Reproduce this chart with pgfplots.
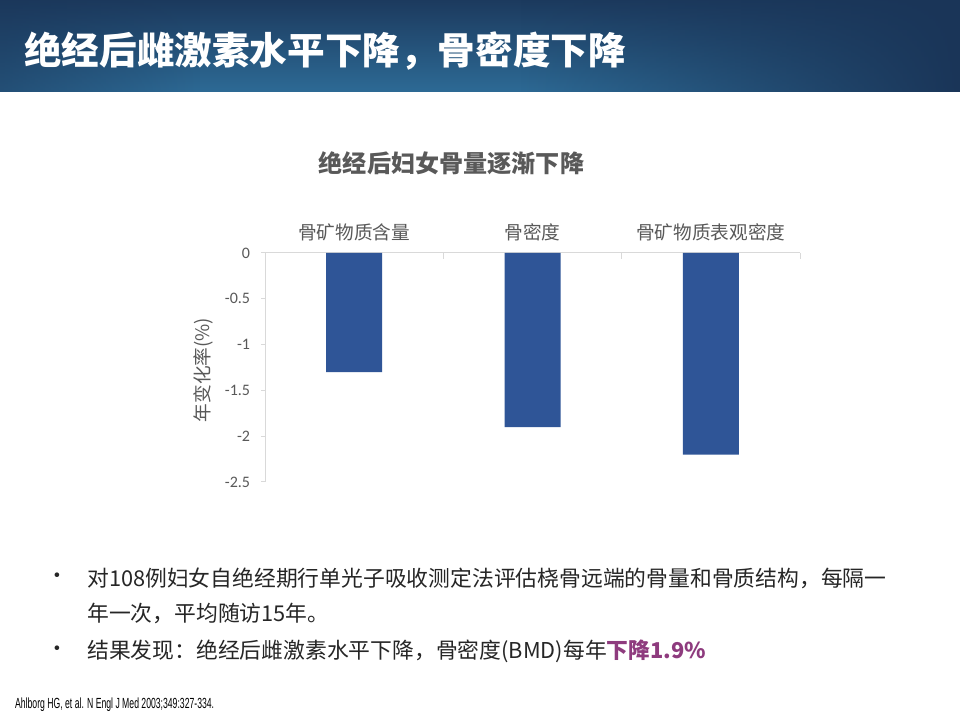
\documentclass[border=0pt]{standalone}
\usepackage{fontspec}
\setmainfont{Noto Sans CJK SC}
\newfontfamily\calfont{Carlito}
\newfontfamily\libfont{Liberation Sans}
\usepackage{pgfplots}
\pgfplotsset{compat=1.18}
\usetikzlibrary{fadings}
\definecolor{bar}{HTML}{2F5597}
\definecolor{txt}{HTML}{595959}
\definecolor{gridc}{HTML}{D9D9D9}
\definecolor{hl}{HTML}{8E3B7E}
\definecolor{body}{HTML}{262626}
\definecolor{hdrtop}{HTML}{1C3A5E}
\definecolor{hdrbot}{HTML}{2D6A95}
\definecolor{hdrdark}{HTML}{1A3558}
\begin{document}
\begin{tikzpicture}[x=0.75pt,y=0.75pt]
\fill[white] (0,0) rectangle (960,720);
\shade[top color=hdrtop, bottom color=hdrbot] (0,628) rectangle (960,720);
\fill[hdrdark, path fading=west] (520,628) rectangle (960,720);
\fill[hdrdark, path fading=east, opacity=0.5] (0,628) rectangle (200,720);
\node[anchor=west, text=white, inner sep=0pt, font=\fontsize{28.2}{31}\selectfont\bfseries] at (24,669) {绝经后雌激素水平下降，骨密度下降};
\node[text=txt, inner sep=0pt, font=\fontsize{18.1}{21}\selectfont\bfseries] at (451.5,557) {绝经后妇女骨量逐渐下降};
\coordinate (axpos) at (265,238);
\begin{axis}[
  at={(axpos)}, anchor=south west, scale only axis,
  width=401.25pt, height=171.75pt,
  xmin=0, xmax=3, ymin=-2.5, ymax=0,
  axis x line*=top, axis y line*=left,
  axis line style={draw=gridc, line width=0.75pt},
  xtick={0.5,1.5,2.5},
  xticklabels={骨矿物质含量,骨密度,骨矿物质表观密度},
  x tick label style={text=txt, font=\fontsize{14}{16}\selectfont, inner sep=0pt, yshift=6pt},
  x tick style={draw=none},
  ytick={-2.5,-2,-1.5,-1,-0.5,0},
  yticklabels={-2.5,-2,-1.5,-1,-0.5,0},
  y tick label style={text=txt, font=\calfont\fontsize{12}{13}\selectfont, inner sep=0pt, xshift=-8pt},
  tick align=outside, major tick length=3pt,
  y tick style={draw=gridc, line width=0.75pt},
  clip=false,
]
\addplot[ybar, bar width=42pt, fill=bar, draw=none] coordinates {(0.5,-1.3) (1.5,-1.9) (2.5,-2.2)};
\draw[gridc, line width=0.75pt] (axis cs:1,0) -- ([yshift=-4.5pt]axis cs:1,0);
\draw[gridc, line width=0.75pt] (axis cs:2,0) -- ([yshift=-4.5pt]axis cs:2,0);
\draw[gridc, line width=0.75pt] (axis cs:3,0) -- ([yshift=-4.5pt]axis cs:3,0);
\end{axis}
\node[rotate=90, text=txt, inner sep=0pt, font=\fontsize{14}{16}\selectfont] at (203,350) {年变化率(\%)};
\begin{scope}[every node/.style={anchor=west, inner sep=0pt, text=body, font=\fontsize{16.35}{19}\selectfont}]
\node at (46,142) {•};
\node at (87,142) {对108例妇女自绝经期行单光子吸收测定法评估桡骨远端的骨量和骨质结构，每隔一};
\node at (87,107) {年一次，平均随访15年。};
\node at (46,69) {•};
\node at (87,69) {结果发现：绝经后雌激素水平下降，骨密度(BMD)每年{\color{hl}\bfseries 下降1.9\%}};
\end{scope}
\node[anchor=west, inner sep=0pt, text=black, xscale=0.59, font=\libfont\fontsize{11}{13}\selectfont] at (15,15) {Ahlborg HG, et al. N Engl J Med 2003;349:327-334.};
\end{tikzpicture}
\end{document}
